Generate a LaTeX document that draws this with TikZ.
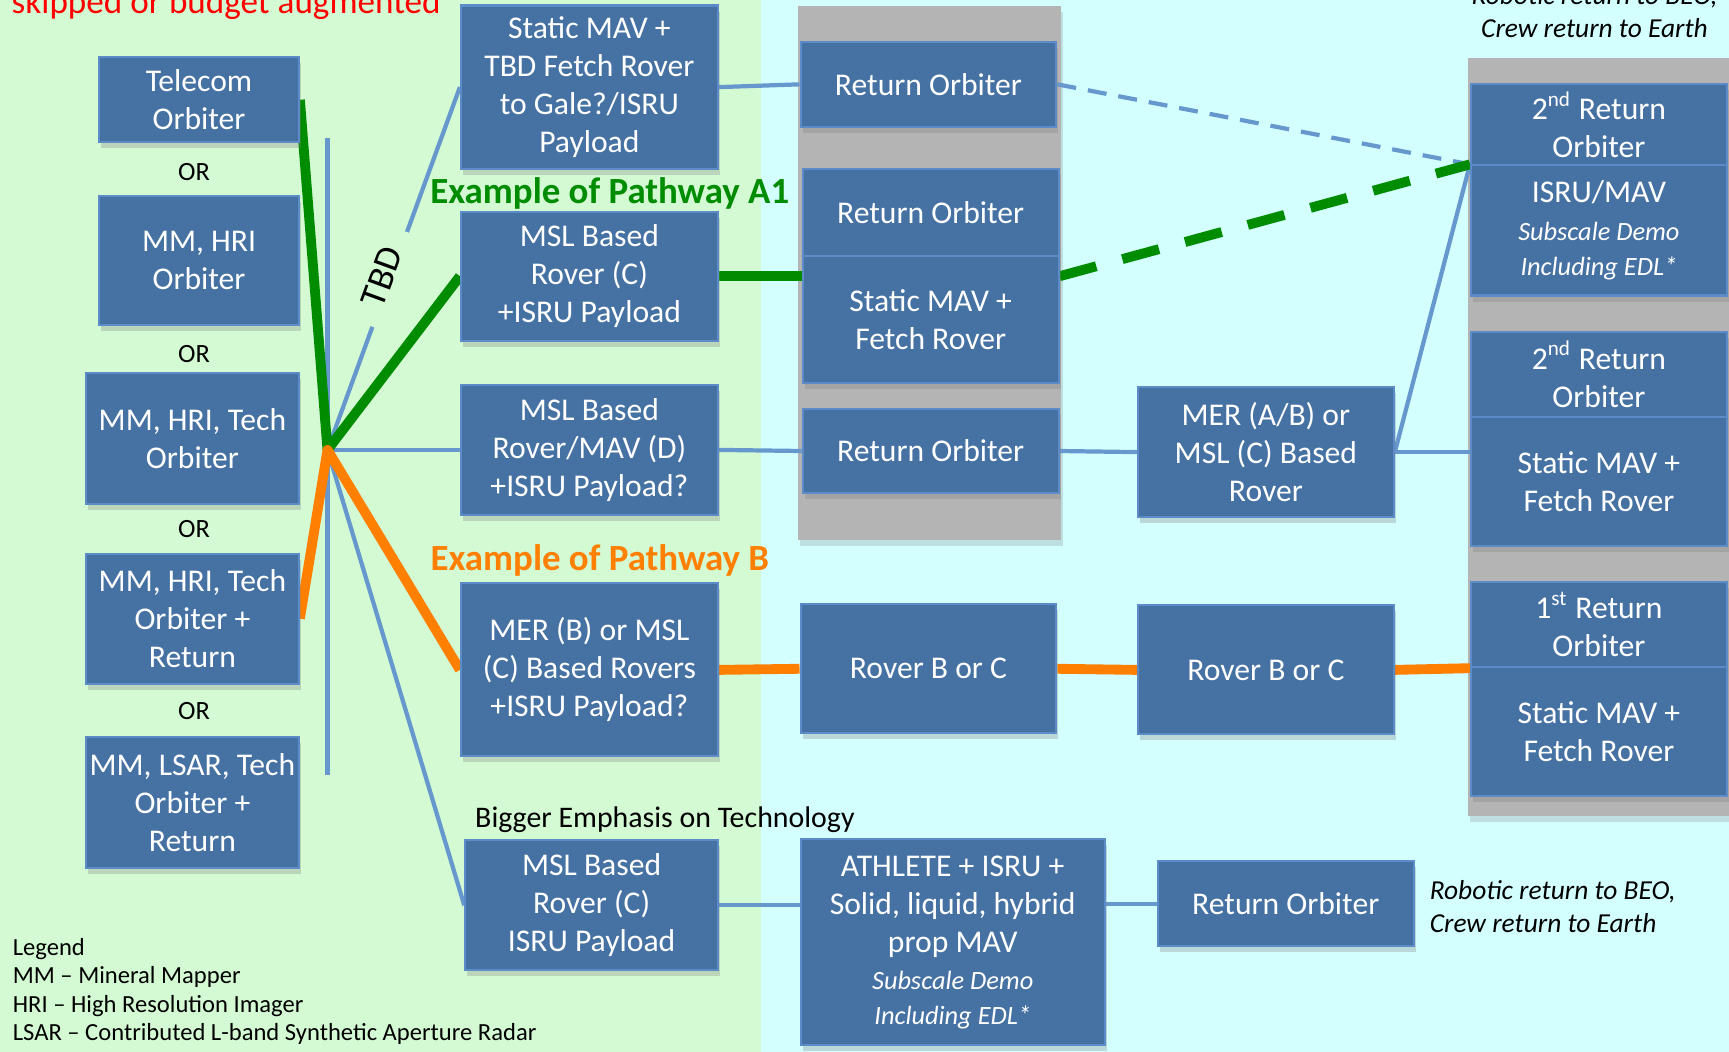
\documentclass[tikz,border=0pt]{standalone}
\usepackage{fontspec}
\setmainfont{Carlito}
\usepackage{tikz}
\usetikzlibrary{positioning, calc, shadows, backgrounds}
\usepackage{xcolor}

\definecolor{bggreen}{RGB}{212,250,212}
\definecolor{bgcyan}{RGB}{212,255,255}
\definecolor{panelgray}{RGB}{180,180,180}
\definecolor{boxblue}{RGB}{70,114,163}
\definecolor{boxedge}{RGB}{92,140,200}
\definecolor{linkblue}{RGB}{102,152,206}
\definecolor{pathgreen}{RGB}{0,140,0}
\definecolor{pathorange}{RGB}{255,127,0}

\newcommand{\boxfont}{\fontsize{9}{10.8}\selectfont}
\newcommand{\subfont}{\fontsize{7.5}{9.4}\selectfont\itshape}

\begin{document}
\begin{tikzpicture}[
    x=0.11027mm, y=-0.11027mm,
    box/.style={rectangle, draw=boxedge, line width=0.6pt, fill=boxblue,
                text=white, align=center, font=\boxfont, inner sep=1pt,
                minimum width=25.58mm,
                drop shadow={shadow xshift=0.2mm, shadow yshift=-0.6mm,
                             opacity=0.3}},
    panel/.style={fill=panelgray,
                  drop shadow={shadow xshift=0.2mm, shadow yshift=-0.6mm,
                               opacity=0.25}},
    orword/.style={font=\fontsize{7.5}{9}\selectfont},
    pathname/.style={font=\fontsize{10.5}{12}\selectfont\bfseries},
    link/.style={draw=linkblue, line width=1.2pt},
    glink/.style={draw=pathgreen, line width=2.8pt, line join=round},
    olink/.style={draw=pathorange, line width=2.8pt, line join=round},
    tbdlabel/.style={sloped, fill=bggreen, inner xsep=2mm, inner ysep=0.5pt,
                     yshift=0.8mm, font=\fontsize{10.5}{12}\selectfont},
    note/.style={font=\fontsize{7.8}{9.4}\selectfont\itshape, inner sep=0pt}
  ]
  \useasboundingbox (0,0) rectangle (1568,954);

  % Orbiter options
  \node[box, minimum width=19.96mm, minimum height=8.49mm] (tel) at (180.5,90.5) {Telecom\\Orbiter};
  \node[orword] (or1) at (176,156) {OR};
  \node[box, minimum width=19.96mm, minimum height=12.9mm] (mh) at (180.5,236.5) {MM, HRI\\Orbiter};
  \node[orword] (or2) at (176,321) {OR};
  \node[box, minimum width=21.28mm, minimum height=13.12mm] (mht) at (174.5,397.5) {MM, HRI, Tech\\Orbiter};
  \node[orword] (or3) at (176,480) {OR};
  \node[box, minimum width=21.28mm, minimum height=13.01mm] (mhtr) at (174.5,561) {MM, HRI, Tech\\Orbiter +\\Return};
  \node[orword] (or4) at (176,645) {OR};
  \node[box, minimum width=21.28mm, minimum height=13.12mm] (mltr) at (174.5,727.5) {MM, LSAR, Tech\\Orbiter +\\Return};
  \coordinate (hub) at (297,408);
  \coordinate (vtop) at (297,125);
  \coordinate (vbot) at (297,703);

  % First landed element
  \node[box, minimum width=25.69mm, minimum height=16.32mm] (stbd) at (534.5,79) {Static MAV +\\TBD Fetch Rover\\to Gale?/ISRU\\Payload};
  \node[pathname, text=pathgreen] (pa1) at (553,175) {Example of Pathway A1};
  \node[box, minimum width=25.69mm, minimum height=12.9mm] (mslc) at (534.5,250.5) {MSL Based\\Rover (C)\\+ISRU Payload};
  \node[box, minimum width=25.69mm, minimum height=13.01mm] (msld) at (534.5,408) {MSL Based\\Rover/MAV (D)\\+ISRU Payload?};
  \node[pathname, text=pathorange] (pb) at (544,508) {Example of Pathway B};
  \node[box, minimum width=25.69mm, minimum height=17.31mm] (merb) at (534.5,607.5) {MER (B) or MSL\\(C) Based Rovers\\+ISRU Payload?};
  \node[font=\fontsize{8.5}{10}\selectfont] (tech) at (603,743) {Bigger Emphasis on Technology};
  \node[box, minimum width=25.25mm, minimum height=13.01mm] (mslb) at (536.5,821) {MSL Based\\Rover (C)\\ISRU Payload};

  % Second element
  \node[box, minimum height=8.49mm] (roa) at (842,76.5) {Return Orbiter};
  \node[box, minimum height=8.71mm] (rob) at (844,192.5) {Return Orbiter};
  \node[box, minimum height=12.68mm] (smfa) at (844,289.5) {Static MAV +\\Fetch Rover};
  \node[box, minimum height=8.38mm] (roc) at (844,409) {Return Orbiter};
  \node[box, minimum height=12.9mm] (rbca) at (842,606.5) {Rover B or C};
  \node[box, minimum width=30.43mm, minimum height=20.62mm] (ath) at (864,854.5)
    {ATHLETE + ISRU +\\Solid, liquid, hybrid\\prop MAV\\{\subfont Subscale Demo}\\[-1pt]{\subfont Including EDL*}};

  % Third element
  \node[box, minimum height=13.01mm] (merab) at (1148,410) {MER (A/B) or\\MSL (C) Based\\Rover};
  \node[box, minimum height=12.9mm] (rbcb) at (1148,607.5) {Rover B or C};
  \node[box, minimum height=8.49mm] (rod) at (1166,819.5) {Return Orbiter};
  \node[note, anchor=west, align=left] (retb) at (1296,822) {Robotic return to BEO,\\Crew return to Earth};

  % Return campaign
  \node[box, minimum height=8.16mm] (sroa) at (1450,113) {2\textsuperscript{nd} Return\\Orbiter};
  \node[box, minimum height=13.01mm] (isru) at (1450,209)
    {ISRU/MAV\\{\subfont Subscale Demo}\\[-1pt]{\subfont Including EDL*}};
  \node[box, minimum height=8.49mm] (srob) at (1450,339.5) {2\textsuperscript{nd} Return\\Orbiter};
  \node[box, minimum height=12.9mm] (smfb) at (1450,436.5) {Static MAV +\\Fetch Rover};
  \node[box, minimum height=8.49mm] (froa) at (1450,566.5) {1\textsuperscript{st} Return\\Orbiter};
  \node[box, minimum height=12.9mm] (smfc) at (1450,663.5) {Static MAV +\\Fetch Rover};
  \node[note, anchor=north, align=center] (rett) at (1446,-14) {Robotic return to BEO,\\Crew return to Earth};

  % Top note and legend
  \node[anchor=base west, text=red, inner sep=0pt, font=\fontsize{10}{12}\selectfont] (skip) at (10,12) {skipped or budget augmented};
  \node[anchor=north west, align=left, inner sep=0pt, font=\fontsize{7}{8.1}\selectfont] (legend) at (11,850)
    {Legend\\MM -- Mineral Mapper\\HRI -- High Resolution Imager\\LSAR -- Contributed L-band Synthetic Aperture Radar};

  \begin{scope}[on background layer]
    \fill[bggreen] (0,0) rectangle (690,954);
    \fill[bgcyan] (690,0) rectangle (1568,954);
    \fill[panel] (724,5) rectangle (962,490);
    \fill[panel] (1331,53) rectangle (1580,740);

    % Fan out from the orbiters
    \draw[link] (vtop) -- (vbot);
    \draw[link] (hub) -- node[tbdlabel, pos=0.47] (tbd) {TBD} (stbd.west);
    \draw[link] (hub) -- (msld.west);
    \draw[link] (hub) -- (mslb.west);
    \draw[glink] (tel.east) -- (hub) -- (mslc.west);
    \draw[olink] (mhtr.east) -- (hub) -- (merb.west);

    % Blue links
    \draw[link] (stbd.east) -- (roa.west);
    \draw[link, dash pattern=on 1.9mm off 1.2mm] (roa.east) -- (isru.north west);
    \draw[link] (msld.east) -- (roc.west);
    \draw[link] (roc.east) -- (merab.west);
    \draw[link] (merab.east) -- (isru.north west);
    \draw[link] (merab.east) -- (merab.east -| smfb.west);
    \draw[link] (mslb.east) -- (mslb.east -| ath.west);
    \draw[link] (ath.east |- rod.west) -- (rod.west);

    % Pathway A1
    \draw[glink] (mslc.east) -- (mslc.east -| smfa.west);
    \draw[glink, dash pattern=on 3.8mm off 2.7mm] (smfa.east |- mslc.east) -- (isru.north west);

    % Pathway B
    \draw[olink] (merb.east) -- (rbca.west);
    \draw[olink] (rbca.east) -- (rbcb.west);
    \draw[olink] (rbcb.east) -- (froa.south west);
  \end{scope}
\end{tikzpicture}
\end{document}
